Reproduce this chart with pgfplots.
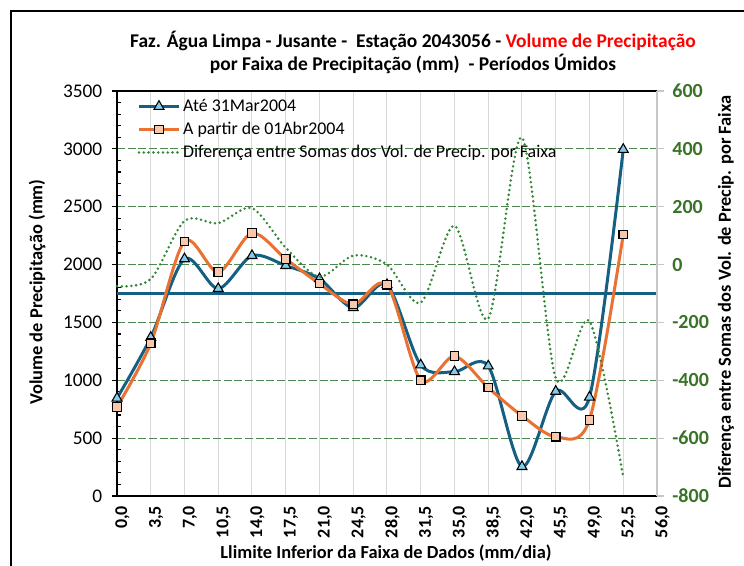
\documentclass[border=0pt]{standalone}
\usepackage{pgfplots}
\pgfplotsset{compat=1.18}
\usepackage{fontspec}
\setmainfont{Carlito}
\definecolor{bline}{RGB}{21,96,130}
\definecolor{bfill}{RGB}{131,203,235}
\definecolor{oline}{RGB}{233,113,50}
\definecolor{ofill}{RGB}{248,200,172}
\definecolor{gdot}{RGB}{50,135,55}
\definecolor{ggrid}{RGB}{80,135,80}
\definecolor{gtick}{RGB}{58,115,40}
\definecolor{vgrid}{RGB}{217,217,217}
\pgfplotstableread{
x blue orange diff
0    845  770  -75
3.5  1370 1320 -50
7    2049 2200 151
10.5 1792 1935 143
14   2077 2272 195
17.5 1991 2049 58
21   1877 1835 -42
24.5 1626 1657 31
28   1826 1826 0
31.5 1132 1000 -132
35   1074 1208 134
38.5 1123 936  -187
42   254  693  439
45.5 904  512  -392
49   854  658  -196
52.5 2995 2260 -735
}\data
\begin{document}
\begin{tikzpicture}
\useasboundingbox (0pt,0pt) rectangle (558pt,-424.5pt);
\begin{scope}
\clip (0pt,0pt) rectangle (558pt,-424.5pt);
\draw[line width=0.8pt,black] (8.25pt,-8.25pt) rectangle (580pt,-440pt);
\end{scope}
\begin{axis}[
  at={(87.75pt,-372pt)}, anchor=south west, scale only axis,
  width=405pt, height=303.75pt,
  xmin=0, xmax=56, ymin=0, ymax=3500,
  axis x line=bottom, axis y line=left,
  axis line style={-},
  x axis line style={black, line width=0.9pt},
  y axis line style={black, line width=1.1pt},
  xtick={0,3.5,7,10.5,14,17.5,21,24.5,28,31.5,35,38.5,42,45.5,49,52.5,56},
  xticklabels={{0,0},{3,5},{7,0},{10,5},{14,0},{17,5},{21,0},{24,5},{28,0},{31,5},{35,0},{38,5},{42,0},{45,5},{49,0},{52,5},{56,0}},
  xticklabel style={rotate=90, anchor=east, font=\fontsize{13.5}{13.5}\selectfont\bfseries, yshift=-4pt},
  x tick style={draw=none},
  ytick={0,500,1000,1500,2000,2500,3000,3500},
  yticklabels={0,500,1000,1500,2000,2500,3000,3500},
  yticklabel style={font=\fontsize{14.5}{14.5}\selectfont, xshift=-3.5pt},
  minor y tick num=4,
  tick align=outside,
  major tick length=4pt,
  minor tick length=3pt,
  y tick style={black, line width=0.8pt},
  minor y tick style={xshift=3pt},
  xmajorgrids, major x grid style={vgrid, line width=0.75pt},
  ymajorgrids, major y grid style={ggrid, line width=0.75pt, dash pattern=on 6pt off 2pt},
  clip=false,
  legend style={at={(0.035,0.99)}, anchor=north west, draw=none, fill=none,
    font=\fontsize{13.4}{15}\selectfont, row sep=2.5pt, inner sep=1pt},
  legend cell align=left,
  legend image code/.code={\draw[mark repeat=2,mark phase=2] plot coordinates {(0pt,0pt) (15pt,0pt) (30pt,0pt)};},
]
\draw[black, line width=0.9pt] (axis description cs:0,1) -- (axis description cs:1,1);
\addplot[bline, line width=2.25pt, forget plot] coordinates {(0,1749) (56,1749)};
\addplot[bline, line width=2.25pt, smooth, tension=0.5, mark=triangle*, mark size=4.3pt,
  mark options={fill=bfill, draw=black, line width=0.8pt, solid}] table[x=x,y=blue]{\data};
\addplot[oline, line width=2.25pt, smooth, tension=0.5, mark=square*, mark size=3.2pt,
  mark options={fill=ofill, draw=black, line width=0.8pt, solid}] table[x=x,y=orange]{\data};
\addlegendimage{gdot, line width=2.1pt, dash pattern=on 0pt off 3.6pt, line cap=round}
\legend{Até 31Mar2004,A partir de 01Abr2004,Diferença entre Somas dos Vol. de Precip. por Faixa}
\end{axis}
\begin{axis}[
  at={(87.75pt,-372pt)}, anchor=south west, scale only axis,
  width=405pt, height=303.75pt,
  xmin=0, xmax=56, ymin=-800, ymax=600,
  axis x line=none, axis y line=right,
  axis line style={-},
  y axis line style={vgrid!80!gray, line width=0.8pt},
  ytick={-800,-600,-400,-200,0,200,400,600},
  yticklabels={-800,-600,-400,-200,0,200,400,600},
  yticklabel style={font=\fontsize{15}{15}\selectfont\bfseries, text=gtick, xshift=3pt},
  tick align=outside, major tick length=5pt,
  y tick style={vgrid!80!gray, line width=0.8pt},
  clip=false,
]
\addplot[gdot, line width=2.1pt, smooth, tension=0.5, dash pattern=on 0pt off 3.6pt, line cap=round] table[x=x,y=diff]{\data};
\end{axis}
\node[font=\fontsize{14.6}{14.6}\selectfont\bfseries, anchor=center] at (309.75pt,-30.75pt) {Faz. Água Limpa - Jusante -\ \ Estação 2043056 - \textcolor{red}{Volume de Precipitação}};
\node[font=\fontsize{14.6}{14.6}\selectfont\bfseries, anchor=center] at (309.75pt,-48pt) {por Faixa de Precipitação (mm)\ \ - Períodos Úmidos};
\node[font=\fontsize{13.8}{13.8}\selectfont\bfseries, anchor=center] at (289.5pt,-414.5pt) {Llimite Inferior da Faixa de Dados (mm/dia)};
\node[font=\fontsize{13.8}{13.8}\selectfont\bfseries, rotate=90, anchor=center] at (27.75pt,-219pt) {Volume de Precipitação (mm)};
\node[font=\fontsize{13.8}{13.8}\selectfont\bfseries, rotate=90, anchor=center] at (544.5pt,-219pt) {Diferença entre Somas dos Vol. de Precip. por Faixa};
\end{tikzpicture}
\end{document}
